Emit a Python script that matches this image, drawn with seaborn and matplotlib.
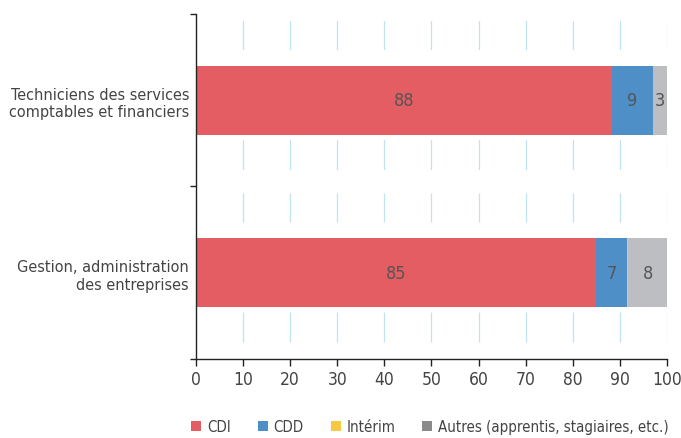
import numpy as np
import pandas as pd
import matplotlib
matplotlib.use("Agg")
import matplotlib.pyplot as plt
from matplotlib.lines import Line2D
import seaborn as sns

# donnees
categories = ["Techniciens des services\ncomptables et financiers",
              "Gestion, administration\ndes entreprises"]
series = ["CDI", "CDD", "Intérim", "Autres (apprentis, stagiaires, etc.)"]
cdi = [88.4, 84.9]
cdd = [8.6, 6.6]
interim = [0.0, 0.3]
autres = [3.0, 8.2]
labels_cdi = ["88", "85"]
labels_cdd = ["9", "7"]
labels_autres = ["3", "8"]

colors = ["#e35d62", "#4f8fc8", "#f6c843", "#bdbec2"]
legend_colors = ["#e35d62", "#4f8fc8", "#f6c843", "#8a8a8a"]

sns.set_style("white")
plt.rcParams["font.family"] = ["DejaVu Sans"]
plt.rcParams["font.stretch"] = "condensed"
plt.rcParams["lines.scale_dashes"] = False
txt = "#444444"

df = pd.DataFrame({"cat": categories, "CDI": cdi, "CDD": cdd,
                   "Intérim": interim, "Autres": autres})
cum = df[["CDI", "CDD", "Intérim", "Autres"]].cumsum(axis=1)

fig = plt.figure(figsize=(6.81, 4.39), dpi=100)
ax = fig.add_axes([0.2878, 0.18, 0.9794 - 0.2878, 0.9658 - 0.18])

# barres empilees : on superpose les cumuls du plus grand au plus petit
for col, c in zip(["Autres", "Intérim", "CDD", "CDI"], colors[::-1]):
    sns.barplot(x=cum[col], y=df["cat"], color=c, width=0.4,
                orient="h", linewidth=0, saturation=1, ax=ax)

# etiquettes de valeurs au milieu des segments
for i in range(len(categories)):
    for col, labs in [("CDI", labels_cdi), ("CDD", labels_cdd), ("Autres", labels_autres)]:
        end = cum[col][i]
        start = end - df[col][i]
        ax.text((start + end) / 2, i, labs[i], ha="center", va="center",
                fontsize=13, color="#555555")

ax.set_xlim(0, 100)
ax.set_ylim(1.5, -0.5)
ax.set_xticks(np.arange(0, 101, 10))
ax.set_yticks([-0.5, 0.5, 1.5])
ax.set_yticklabels([])
ax.set_yticks([0, 1], minor=True)
ax.set_yticklabels(categories, minor=True, fontsize=11.6, color=txt)
ax.tick_params(axis="y", which="minor", length=0, pad=5)
ax.tick_params(axis="y", which="major", length=4, width=1, color="#222222", direction="out", left=True)
ax.tick_params(axis="x", length=5, width=1, color="#222222", direction="out",
               labelsize=12.5, labelcolor=txt, bottom=True, pad=3)
ax.set_xlabel("")
ax.set_ylabel("")

for s in ["top", "right"]:
    ax.spines[s].set_visible(False)
for s in ["left", "bottom"]:
    ax.spines[s].set_color("#222222")
    ax.spines[s].set_linewidth(1)

ax.set_axisbelow(True)
ax.grid(axis="x", color="#bfe4f0", linewidth=0.9,
        linestyle=(112, (21.6, 64.8, 20.9, 16.9)))
ax.grid(axis="y", visible=False)

handles = [Line2D([0], [0], marker="s", linestyle="", markersize=7,
                  markerfacecolor=c, markeredgewidth=0) for c in legend_colors]
fig.legend(handles, series, loc="lower left", bbox_to_anchor=(0.262, -0.022),
           ncol=4, frameon=False, fontsize=10.8, labelcolor=txt,
           handlelength=0.6, handletextpad=0.4, columnspacing=1.85)

fig.savefig("out.png", dpi=100)
